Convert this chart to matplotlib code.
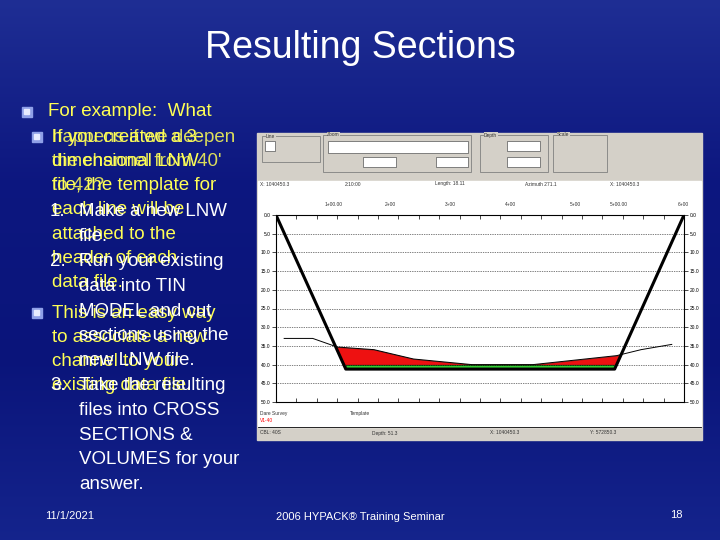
import numpy as np
import matplotlib
matplotlib.use("Agg")
import matplotlib.pyplot as plt
from matplotlib.patches import Rectangle

plt.rcParams["font.family"] = ["Liberation Sans", "DejaVu Sans"]

# ---- data ----
TITLE = "Resulting Sections"
YELLOW_A = ["If you created a 3-", "dimensional LNW", "file, the template for",
            "each line will be", "attached to the", "header of each", "data file."]
YELLOW_B = ["happens if we deepen", "the channel from 40'", "to 42?"]
YELLOW_C = ["This is an easy way", "to associate a new", "channel to your", "existing data file."]
WHITE_STEPS = [("1.", ["Make a new LNW", "file."]),
               ("2.", ["Run your existing", "data into TIN", "MODEL and cut",
                       "sections using the", "new LNW file."]),
               ("3.", ["Take the resulting", "files into CROSS", "SECTIONS &",
                       "VOLUMES for your", "answer."])]

# cross section (distance %, depth ft)
tmpl_x = [0, 17.1, 83.0, 100]
tmpl_d = [0, 41.2, 41.2, 0]
exist_x = [2, 9, 15, 24, 33.7, 48, 63, 83.5, 89.5, 97]
exist_d = [33.0, 33.0, 35.3, 36.0, 38.5, 40.0, 40.0, 37.6, 36.0, 34.6]
green_x = [17.1, 83.0]
depth_ticks = [0, 5, 10, 15, 20, 25, 30, 35, 40, 45, 50]

fig = plt.figure(figsize=(7.2, 5.4), dpi=100)
bg = fig.add_axes([0, 0, 1, 1])
grad = np.array([[0.12, 0.18, 0.58], [0.05, 0.09, 0.50], [0.04, 0.08, 0.48], [0.08, 0.14, 0.55]])
col = np.stack([np.interp(np.linspace(0, 3, 300), np.arange(4), grad[:, c]) for c in range(3)], axis=1)
img = np.repeat(col[:, None, :], 2, axis=1)
bg.imshow(img, extent=[0, 720, 540, 0], aspect="auto")
bg.set_xlim(0, 720)
bg.set_ylim(540, 0)
bg.axis("off")

bg.text(360, 48, TITLE, color="white", fontsize=27, ha="center", va="center")

yel = "#ffff55"
fs = 13.5
sp = 24.3


def bullet(x, y):
    bg.add_patch(Rectangle((x, y - 5), 10, 10, color="#8fa0e8"))
    bg.add_patch(Rectangle((x + 2, y - 3), 5, 5, color="#e8ecff"))


bullet(22, 112)
bg.text(48, 112, "For example:  What", color=yel, fontsize=fs, va="center")
bullet(32, 137)
for i, s in enumerate(YELLOW_A):
    bg.text(52, 137 + i * sp, s, color=yel, fontsize=fs, va="center")
for i, s in enumerate(YELLOW_B):
    bg.text(52, 137 + i * sp, s, color=yel, fontsize=fs, va="center", alpha=0.85)
bullet(32, 313)
for i, s in enumerate(YELLOW_C):
    bg.text(52, 313 + i * sp, s, color=yel, fontsize=fs, va="center")

y = 212
for num, lines in WHITE_STEPS:
    bg.text(50, y, num, color="white", fontsize=fs, va="center")
    for s in lines:
        bg.text(79, y, s, color="white", fontsize=fs, va="center")
        y += sp * 1.02

bg.text(45, 516, "11/1/2021", color="white", fontsize=8, va="center")
bg.text(360, 517, "2006 HYPACK® Training Seminar", color="white", fontsize=8, ha="center", va="center")
bg.text(670, 515, "18", color="white", fontsize=8, va="center")

# screenshot frame
bg.add_patch(Rectangle((257, 133), 445, 307, color="#d4d0c8"))
bg.add_patch(Rectangle((258, 181), 443, 246, color="white"))
for (x0, y0, w, h), lab in zip([(262, 136, 58, 26), (323, 135, 148, 37), (480, 135, 68, 37), (553, 135, 54, 37)],
                               ["Line", "Zoom", "Depth", "Scale"]):
    bg.add_patch(Rectangle((x0, y0), w, h, fill=False, ec="#808080", lw=0.6))
    bg.text(x0 + 4, y0, lab, fontsize=3.5, color="#333333", va="center",
            bbox=dict(fc="#d4d0c8", ec="none", pad=0.3))
for (x0, y0, w, h) in [(328, 141, 140, 12), (363, 157, 33, 10), (436, 157, 32, 10),
                       (507, 141, 33, 10), (507, 157, 33, 10), (265, 141, 10, 10)]:
    bg.add_patch(Rectangle((x0, y0), w, h, fc="white", ec="#555555", lw=0.5))
bg.plot([258, 701], [427, 427], color="black", lw=0.6)
for x0, s in [(260, "CBL: 40S"), (372, "Depth: 51.3"), (490, "X: 1040450.3"), (590, "Y: 572850.3")]:
    bg.text(x0, 433, s, fontsize=3.5, color="#333333", va="center")
bg.text(260, 413, "Dare Survey", fontsize=3.5, color="#333333", va="center")
bg.text(260, 421, "V1-40", fontsize=3.5, color="red", va="center")
bg.text(350, 413, "Template", fontsize=3.5, color="#333333", va="center")
for x0, s in [(260, "X: 1040450.3"), (345, "2:10:00"), (435, "Length: 18.11"), (525, "Azimuth 271.1"), (610, "X: 1040450.3")]:
    bg.text(x0, 184, s, fontsize=3.5, color="#333333", va="center")
for x0, s in [(325, "1+00.00"), (385, "2+00"), (445, "3+00"), (505, "4+00"), (570, "5+00"), (610, "5+00.00"), (678, "6+00")]:
    bg.text(x0, 204, s, fontsize=3.5, color="#333333", va="center")

ax = fig.add_axes([276 / 720, 1 - 402 / 540, 408 / 720, 187 / 540])
ax.set_xlim(0, 100)
ax.set_ylim(50, 0)
for d in depth_ticks[1:-1]:
    ax.axhline(d, color="black", lw=0.5, ls=(0, (1, 1.5)))
xs = np.linspace(exist_x[0], exist_x[-1], 400)
ed = np.interp(xs, exist_x, exist_d)
td = np.interp(xs, tmpl_x, tmpl_d)
ax.fill_between(xs, ed, np.minimum(td, 40.0), where=ed < td, color="#ee1111", ec="#881111", lw=0.5)
ax.fill_between(green_x, 40.0, 41.2, color="#33cc33", ec="#116611", lw=0.6)
ax.plot(exist_x, exist_d, color="black", lw=0.7)
ax.plot(tmpl_x, tmpl_d, color="black", lw=2.2)
ax.set_yticks(depth_ticks)
ax.set_yticklabels([f"{d:.1f}" for d in depth_ticks], fontsize=3.5)
ax.tick_params(axis="y", length=3, width=0.5, pad=1, right=True, labelright=True)
ax.set_xticks(np.arange(0, 101, 5))
ax.set_xticklabels([])
ax.tick_params(axis="x", length=3, width=0.5, top=True, direction="in")
for sp_ in ax.spines.values():
    sp_.set_linewidth(0.8)

fig.savefig("out.png", dpi=100)
